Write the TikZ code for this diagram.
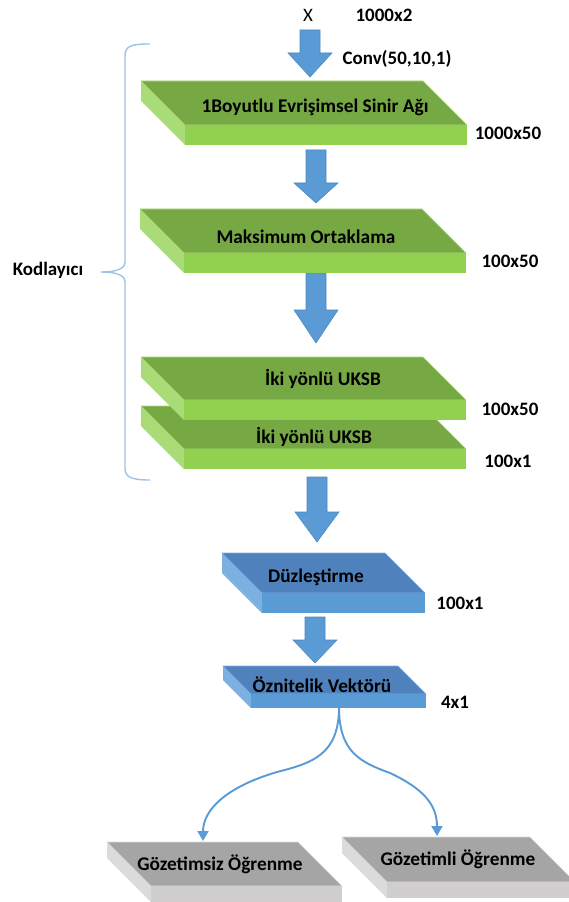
\documentclass[tikz,border=0pt]{standalone}
\usepackage{fontspec}
\setmainfont{Carlito}
\usepackage{tikz}
\usetikzlibrary{arrows.meta,calc}
\usepackage{xcolor}
\definecolor{LayerGreenTop}{HTML}{76A844}
\definecolor{LayerGreenFront}{HTML}{92D050}
\definecolor{LayerGreenSide}{HTML}{A9DB76}
\definecolor{LayerBlueTop}{HTML}{4F81BD}
\definecolor{LayerBlueFront}{HTML}{5B9BD5}
\definecolor{LayerBlueSide}{HTML}{7DB0E2}
\definecolor{LayerGrayTop}{HTML}{A5A5A5}
\definecolor{LayerGrayFront}{HTML}{D0CECE}
\definecolor{LayerGraySide}{HTML}{DBDBDB}
\definecolor{FlowBlue}{HTML}{5B9BD5}
\definecolor{FlowEdge}{HTML}{4A86C0}
\definecolor{BraceBlue}{HTML}{9DC3E6}

% slab: colour, x, y, width, skew, depth, name, text position, text
\newcommand{\slab}[9]{%
  \fill[#1Side] (#2,#3) -- ++(#5,#5) -- ++(0,#6) -- ++(-#5,-#5) -- cycle;
  \fill[#1Top,draw=#1Side,line width=.3pt] (#2,#3) -- ++(#4,0) -- ++(#5,#5) -- ++(-#4,0) -- cycle;
  \fill[#1Front] ($(#2,#3)+(#5,#5)$) rectangle ++(#4,#6);
  \node[layertext] (#7) at #8 {#9};
}

\begin{document}
\begin{tikzpicture}[x=0.02cm,y=-0.02cm,>=Latex,
    layertext/.style={font=\fontsize{11}{13}\selectfont\bfseries,inner sep=0pt},
    dimtext/.style={font=\fontsize{10.8}{13}\selectfont\bfseries,inner sep=0pt}]
  \useasboundingbox (0,0) rectangle (568,902);

  % input
  \node[font=\fontsize{10.8}{13}\selectfont,inner sep=0pt] (x) at (308,15) {X};
  \node[dimtext] (xdim) at (384,15) {1000x2};
  \node[dimtext] (conv) at (397,59) {Conv(50,10,1)};

  % encoder brace
  \draw[BraceBlue,line width=.8pt]
    (150,44) .. controls (131,44) and (125,46) .. (125,56) -- (125,262)
    .. controls (125,269) and (116,272) .. (101,272)
    .. controls (116,272) and (125,275) .. (125,282) -- (125,468)
    .. controls (125,477) and (131,480) .. (150,480);
  \node[dimtext] (enc) at (48,270) {Kodlayıcı};

  % block arrows
  \foreach \x/\t/\h/\b in {310/30/53/77,316/150/183/203,316/273/310/343,
                           317/477/512/542,315/617/640/663}
    \filldraw[FlowBlue,draw=FlowEdge,line width=.3pt]
      (\x-10,\t) -- (\x+10,\t) -- (\x+10,\h) -- (\x+22,\h) -- (\x,\b)
      -- (\x-22,\h) -- (\x-10,\h) -- cycle;

  % encoder layers
  \slab{LayerGreen}{141}{81}{282}{44}{20}{cnn}{(315,107)}{1Boyutlu Evrişimsel Sinir Ağı}
  \slab{LayerGreen}{140}{209}{282}{44}{20}{pool}{(306,237)}{Maksimum Ortaklama}
  \slab{LayerGreen}{141}{406}{282}{43}{20}{lstmb}{(314,437)}{İki yönlü UKSB}
  \slab{LayerGreen}{141}{357}{282}{43}{20}{lstma}{(323,379)}{İki yönlü UKSB}
  \node[dimtext] at (508,133) {1000x50};
  \node[dimtext] at (510,261) {100x50};
  \node[dimtext] at (510,409) {100x50};
  \node[dimtext] at (508,461) {100x1};

  % flatten and features
  \slab{LayerBlue}{222}{553}{163}{40}{20}{flat}{(316,577)}{Düzleştirme}
  \slab{LayerBlue}{223}{666}{175}{28}{14}{feat}{(322,685)}{Öznitelik Vektörü}
  \node[dimtext] at (460,603) {100x1};
  \node[dimtext] at (455,702) {4x1};

  % learning heads
  \slab{LayerGray}{107}{842}{191}{44}{16}{unsup}{(220,864)}{Gözetimsiz Öğrenme}
  \slab{LayerGray}{342}{837}{188}{45}{16}{sup}{(458,859)}{Gözetimli Öğrenme}

  \coordinate (split) at (339,707);
  \coordinate (unsuptop) at (203,841);
  \coordinate (suptop) at (437,836);
  \draw[FlowBlue,line width=1.1pt,-{Triangle[width=2.2mm,length=2mm]}]
    (split) .. controls (339,755) and (312,763) .. (277,772)
    .. controls (226,787) and (203,810) .. (unsuptop);
  \draw[FlowBlue,line width=1.1pt,-{Triangle[width=2.2mm,length=2mm]}]
    (split) .. controls (339,752) and (360,762) .. (390,773)
    .. controls (424,789) and (437,805) .. (suptop);
\end{tikzpicture}
\end{document}
